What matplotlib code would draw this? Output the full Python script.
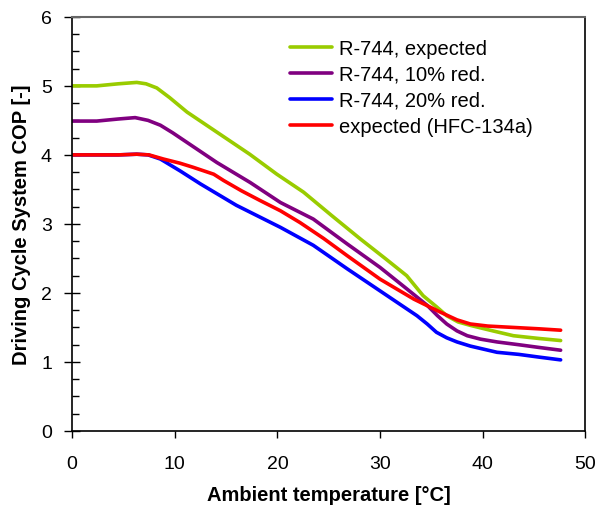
import matplotlib
matplotlib.use('Agg')
import matplotlib.pyplot as plt
from matplotlib.ticker import MultipleLocator

plt.rcParams['font.family'] = ['Liberation Sans', 'DejaVu Sans']

# ambient temperature [C] and COP readings for each curve
t_green = [0, 2.4, 4.5, 6.3, 7.2, 8.25, 9.5, 11.2, 14.1, 17.3, 19.95, 22.55, 25.3, 28.1, 30.5, 32.6, 34.2, 35.5, 36.5, 37.6, 38.8, 41.0, 43.0, 45.5, 47.6]
cop_green = [5.0, 5.0, 5.03, 5.05, 5.03, 4.97, 4.83, 4.62, 4.33, 4.01, 3.72, 3.46, 3.12, 2.78, 2.5, 2.25, 1.96, 1.8, 1.67, 1.58, 1.53, 1.45, 1.38, 1.34, 1.31]

t_purple = [0, 2.4, 4.5, 6.14, 7.4, 8.6, 9.8, 11.2, 14.1, 17.35, 20.3, 23.5, 26.8, 30.0, 32.6, 34.6, 35.6, 36.5, 37.5, 38.5, 39.8, 41.4, 43.5, 45.5, 47.6]
cop_purple = [4.49, 4.49, 4.52, 4.54, 4.5, 4.43, 4.32, 4.18, 3.89, 3.6, 3.31, 3.07, 2.71, 2.37, 2.06, 1.82, 1.67, 1.55, 1.45, 1.38, 1.33, 1.29, 1.25, 1.21, 1.17]

t_blue = [0, 2.4, 4.5, 6.3, 7.4, 8.6, 10.5, 12.5, 16.0, 20.3, 23.5, 26.8, 30.0, 33.0, 33.6, 34.6, 35.5, 36.5, 37.5, 38.8, 41.4, 43.5, 45.5, 47.6]
cop_blue = [4.0, 4.0, 4.0, 4.01, 4.0, 3.94, 3.77, 3.58, 3.27, 2.95, 2.69, 2.35, 2.03, 1.73, 1.67, 1.55, 1.43, 1.35, 1.29, 1.23, 1.14, 1.11, 1.07, 1.03]

t_red = [0, 2.4, 4.5, 6.3, 7.5, 8.9, 10.5, 11.8, 13.8, 14.75, 16.5, 18.3, 20.3, 22.2, 24.5, 26.8, 30.0, 33.3, 35.9, 37.5, 38.8, 40.5, 43.0, 45.5, 47.6]
cop_red = [4.0, 4.0, 4.0, 4.01, 4.0, 3.94, 3.88, 3.82, 3.72, 3.63, 3.48, 3.34, 3.19, 3.02, 2.79, 2.54, 2.2, 1.91, 1.72, 1.61, 1.55, 1.52, 1.5, 1.48, 1.46]

labels = ['R-744, expected', 'R-744, 10% red.', 'R-744, 20% red.', 'expected (HFC-134a)']
colors = ['#99cc00', '#800080', '#0000ff', '#ff0000']

fig = plt.figure(figsize=(5.96, 5.10), dpi=100)
ax = fig.add_axes([0.121, 0.153, 0.861, 0.812])

series = [(t_green, cop_green), (t_purple, cop_purple), (t_blue, cop_blue), (t_red, cop_red)]
for (t, c), lab, col in zip(series, labels, colors):
    ax.plot(t, c, color=col, lw=2.6, label=lab, solid_capstyle='round', solid_joinstyle='round')

ax.set_xlim(0, 50)
ax.set_ylim(0, 6)
ax.xaxis.set_major_locator(MultipleLocator(10))
ax.yaxis.set_major_locator(MultipleLocator(1))
ax.yaxis.set_minor_locator(MultipleLocator(0.25))
ax.tick_params(axis='x', which='major', direction='out', length=5, width=1, labelsize=14, pad=12)
ax.tick_params(axis='y', which='major', direction='inout', length=11, width=1, labelsize=14, pad=9)
ax.tick_params(axis='y', which='minor', direction='in', length=5, width=1)
for s in ['left', 'bottom', 'right']:
    ax.spines[s].set_linewidth(1.2)
ax.spines['top'].set_color('#666666')
ax.spines['top'].set_linewidth(1.5)

ax.set_xlabel('Ambient temperature [°C]', fontsize=14.5, fontweight='bold', labelpad=10)
ax.set_ylabel('Driving Cycle System COP [-]', fontsize=14.5, fontweight='bold', labelpad=7)

leg = ax.legend(loc='upper left', bbox_to_anchor=(0.425, 0.947), frameon=False, fontsize=14.5,
                handlelength=2.1, handletextpad=0.3, labelspacing=0.35, borderaxespad=0, borderpad=0)

fig.savefig('out.png', dpi=100)
